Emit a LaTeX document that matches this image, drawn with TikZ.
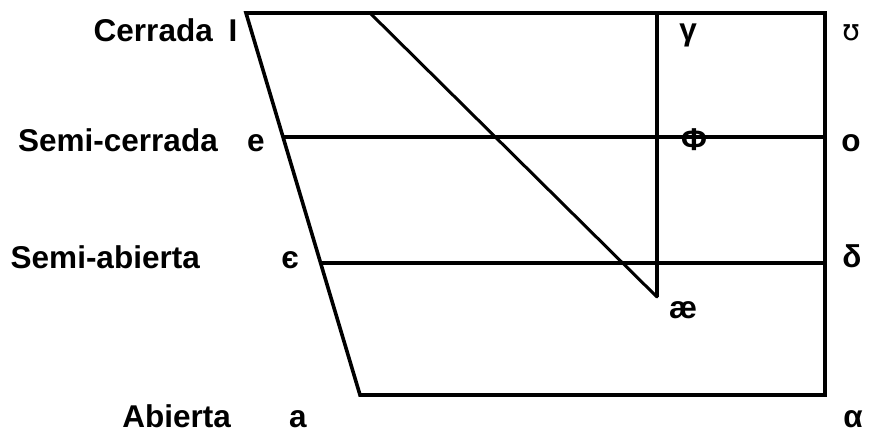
\documentclass[tikz,border=0pt]{standalone}
\usepackage{fontspec}
\setmainfont{Liberation Sans}
\newfontfamily\ipafont{DejaVu Sans}
\begin{document}
\begin{tikzpicture}[x=1pt,y=-1pt,
  frame/.style={line width=3.6pt,line join=miter},
  thin/.style={line width=3pt},
  lbl/.style={font=\fontsize{31.5}{34}\selectfont\bfseries,inner sep=0pt,anchor=base},
  sym/.style={font=\fontsize{31.5}{34}\selectfont\bfseries,inner sep=0pt,anchor=base}]
\useasboundingbox (0,0) rectangle (869,432);
% frame corners
\coordinate (TL) at (246,13);
\coordinate (TR) at (825,13);
\coordinate (BR) at (825,395);
\coordinate (BL) at (360,395);
\coordinate (e1) at (284,137);
\coordinate (e2) at (825,137);
\coordinate (s1) at (321,263);
\coordinate (s2) at (825,263);
\coordinate (v1) at (657,13);
\coordinate (v2) at (657,297);
\coordinate (d1) at (370,13);
\draw[frame] (TL) -- (TR) -- (BR) -- (BL) -- cycle;
\draw[frame] (e1) -- (e2);
\draw[frame] (s1) -- (s2);
\draw[frame] (v1) -- (v2);
\draw[thin,line cap=round] (d1) -- (v2);
% row labels
\node[lbl,anchor=base east] (cer) at (213,41) {Cerrada};
\node[lbl] (I) at (233,41) {I};
\node[lbl,anchor=base east] (scer) at (218,151) {Semi-cerrada};
\node[lbl] (e) at (256,151) {e};
\node[lbl,anchor=base east] (sab) at (200,268) {Semi-abierta};
\node[lbl] (eps) at (290,268) {є};
\node[lbl,anchor=base east] (ab) at (231,427) {Abierta};
\node[lbl] (a) at (298,427) {a};
% symbols
\node[sym] (gam) at (688,40) {γ};
\node[font=\fontsize{29}{32}\selectfont\ipafont,inner sep=0pt,anchor=base] (ups) at (851,40) {ʊ};
\node[sym] (phi) at (694,150) {Φ};
\node[sym] (o) at (851,151) {o};
\node[sym] (del) at (852,267) {δ};
\node[sym] (ae) at (683,318) {æ};
\node[sym] (alp) at (853,427) {α};
\end{tikzpicture}
\end{document}
